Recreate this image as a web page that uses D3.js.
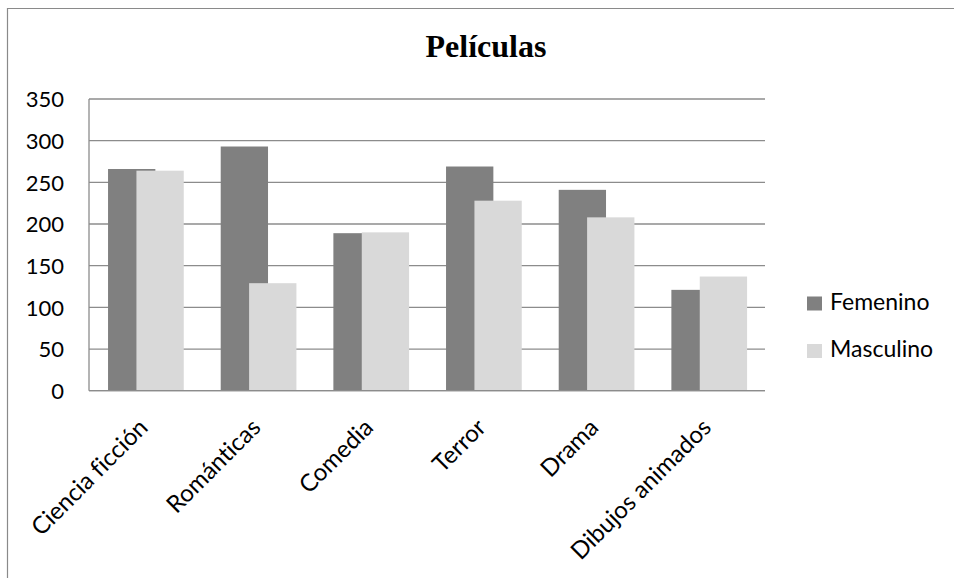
<!DOCTYPE html>
<html>
<head>
<meta charset="utf-8">
<script src="https://cdn.jsdelivr.net/npm/d3@7"></script>
<style>
  html, body { margin: 0; padding: 0; background: #fff; }
  svg { display: block; }
  text { font-family: Lato, "Open Sans", sans-serif; fill: #000; font-variant-ligatures: none; }
  text.title { font-family: "Liberation Serif", "Times New Roman", serif; font-weight: bold; }
</style>
</head>
<body>
<svg id="chart" width="954" height="578"></svg>
<script>
// Preferencias de películas por género
const categories = ["Ciencia ficción", "Románticas", "Comedia", "Terror", "Drama", "Dibujos animados"];
const femenino  = [266, 293, 189, 269, 241, 121];
const masculino = [264, 129, 190, 228, 208, 137];
const seriesNames = ["Femenino", "Masculino"];
const seriesColors = ["#808080", "#d9d9d9"];
const yTicks = [0, 50, 100, 150, 200, 250, 300, 350];
const title = "Películas";

const svg = d3.select("#chart");
const W = 954, H = 578;
const plot = { left: 89, right: 765, top: 99, bottom: 390.7 };

// outer frame: top and left edges
svg.append("path")
  .attr("d", `M7.5,${H} V8.5 H${W}`)
  .attr("fill", "none").attr("stroke", "#8a8a8a").attr("stroke-width", 1.2);

const x = d3.scaleBand().domain(categories).range([plot.left, plot.right]).padding(0);
const y = d3.scaleLinear().domain([0, 350]).range([plot.bottom, plot.top]);

// horizontal gridlines
svg.append("g").selectAll("line").data(yTicks).join("line")
  .attr("x1", plot.left).attr("x2", plot.right)
  .attr("y1", d => y(d)).attr("y2", d => y(d))
  .attr("stroke", "#8c8c8c").attr("stroke-width", 1.3);

// value axis line
svg.append("line")
  .attr("x1", plot.left).attr("x2", plot.left)
  .attr("y1", plot.top).attr("y2", plot.bottom)
  .attr("stroke", "#8c8c8c").attr("stroke-width", 1.3);

// y tick labels via d3 axis
const yAxis = svg.append("g")
  .attr("transform", `translate(${plot.left - 25},0)`)
  .call(d3.axisLeft(y).tickValues(yTicks).tickSize(0).tickPadding(0));
yAxis.select(".domain").remove();
yAxis.selectAll("text")
  .attr("font-size", 22).attr("fill", "#000")
  .attr("dy", "0.36em");

// overlapping clustered bars (second series drawn over the first)
const bw = x.bandwidth();
const barW = bw * 0.42;
const firstOffset = bw * 0.169;
const step = barW * 0.6;
const series = [femenino, masculino];
series.forEach((vals, si) => {
  svg.append("g").selectAll("rect").data(categories).join("rect")
    .attr("x", (c) => x(c) + firstOffset + si * step)
    .attr("y", (c, i) => y(vals[i]))
    .attr("width", barW)
    .attr("height", (c, i) => y(0) - y(vals[i]))
    .attr("fill", seriesColors[si]);
});

// category axis line on top of bars
svg.append("line")
  .attr("x1", plot.left).attr("x2", plot.right)
  .attr("y1", y(0)).attr("y2", y(0))
  .attr("stroke", "#8c8c8c").attr("stroke-width", 1.3);

// rotated category labels
svg.append("g").selectAll("text").data(categories).join("text")
  .attr("transform", c => `translate(${x(c) + bw / 2 + 4},429) rotate(-45)`)
  .attr("text-anchor", "end")
  .attr("font-size", 24)
  .text(c => c);

// title
svg.append("text")
  .attr("class", "title")
  .attr("x", 486).attr("y", 57)
  .attr("text-anchor", "middle")
  .attr("font-size", 32)
  .text(title);

// legend
const legend = svg.append("g").attr("transform", "translate(807,296.5)");
seriesNames.forEach((name, i) => {
  const g = legend.append("g").attr("transform", `translate(0,${i * 47.5})`);
  g.append("rect").attr("width", 15).attr("height", 14).attr("fill", seriesColors[i]);
  g.append("text").attr("x", 23).attr("y", 13).attr("font-size", 23).text(name);
});
</script>
</body>
</html>
